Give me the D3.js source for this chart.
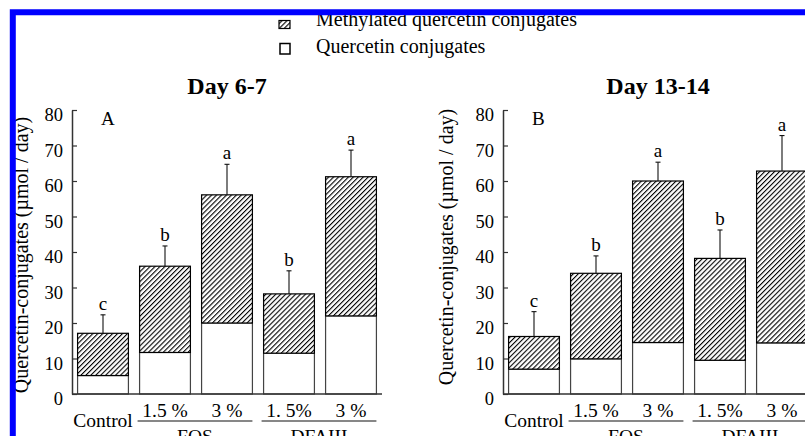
<!DOCTYPE html>
<html lang="en">
<head>
  <meta charset="utf-8">
  <title>Quercetin conjugates</title>
  <script src="https://d3js.org/d3.v7.min.js"></script>
  <style>
    body { margin: 0; background: #fff; }
    text { font-family: "Liberation Serif", "Times New Roman", serif; fill: #000; }
  </style>
</head>
<body>
<script>
  // categories and labels
  var categories = ["Control", "FOS 1.5", "FOS 3", "DFAIII 1.5", "DFAIII 3"];
  var tickLabels = ["Control", "1.5 %", "3 %", "1. 5%", "3 %"];
  var groupNames = ["FOS", "DFAIII"];
  var groupMembers = [["FOS 1.5", "FOS 3"], ["DFAIII 1.5", "DFAIII 3"]];
  var yTicks = [0, 10, 20, 30, 40, 50, 60, 70, 80];

  // Day 6-7 (A), umol / day
  var quercetinA = [5.2, 11.7, 20.0, 11.5, 22.0];
  var methylatedA = [11.9, 24.3, 36.1, 16.7, 39.2];
  var errorA = [5.2, 5.7, 8.6, 6.5, 7.5];
  var lettersA = ["c", "b", "a", "b", "a"];

  // Day 13-14 (B)
  var quercetinB = [7.0, 9.9, 14.5, 9.5, 14.4];
  var methylatedB = [9.2, 24.1, 45.5, 28.7, 48.4];
  var errorB = [7.0, 4.9, 5.3, 8.0, 10.0];
  var lettersB = ["c", "b", "a", "b", "a"];

  var panels = [
    { title: "Day 6-7", tag: "A", q: quercetinA, m: methylatedA, err: errorA, letters: lettersA,
      axisX: 72, labelX: 27.5, labelY: 255 },
    { title: "Day 13-14", tag: "B", q: quercetinB, m: methylatedB, err: errorB, letters: lettersB,
      axisX: 503, labelX: 452.5, labelY: 247 }
  ];

  var svg = d3.select('body').append('svg')
    .attr('width', 805)
    .attr('height', 436)
    .style('display', 'block');

  // hatch for methylated part
  var pat = svg.append('defs').append('pattern')
    .attr('id', 'hatch')
    .attr('patternUnits', 'userSpaceOnUse')
    .attr('width', 3.5)
    .attr('height', 3.5)
    .attr('patternTransform', 'rotate(45)');
  pat.append('rect').attr('width', 3.5).attr('height', 3.5).attr('fill', '#fff');
  pat.append('line')
    .attr('x1', 0).attr('y1', 0).attr('x2', 0).attr('y2', 3.5)
    .attr('stroke', '#000').attr('stroke-width', 2.2);

  var y = d3.scaleLinear().domain([0, 80]).range([394, 110]);
  var stack = d3.stack().keys(["quercetin", "methylated"]);

  panels.forEach(function (p) {
    var g = svg.append('g');

    var x = d3.scaleBand()
      .domain(categories)
      .range([p.axisX, p.axisX + 310])
      .paddingInner(0.18)
      .paddingOuter(0.09);

    var rows = categories.map(function (c, i) {
      return { cat: c, quercetin: p.q[i], methylated: p.m[i], err: p.err[i], letter: p.letters[i] };
    });
    var series = stack(rows);

    // bars
    g.selectAll('g.series')
      .data(series)
      .enter()
      .append('g')
      .attr('fill', function (s) { return s.key === 'quercetin' ? '#fff' : 'url(#hatch)'; })
      .attr('stroke', function (s) { return s.key === 'quercetin' ? '#444' : '#000'; })
      .attr('stroke-width', 1.2)
      .selectAll('rect')
      .data(function (s) { return s; })
      .enter()
      .append('rect')
      .attr('x', function (d) { return x(d.data.cat); })
      .attr('width', x.bandwidth())
      .attr('y', function (d) { return y(d[1]); })
      .attr('height', function (d) { return y(d[0]) - y(d[1]); });

    // error bars + letters
    rows.forEach(function (r) {
      var cx = x(r.cat) + x.bandwidth() / 2;
      var top = r.quercetin + r.methylated;
      g.append('line')
        .attr('x1', cx).attr('x2', cx)
        .attr('y1', y(top)).attr('y2', y(top + r.err))
        .attr('stroke', '#111').attr('stroke-width', 1.1);
      g.append('line')
        .attr('x1', cx - 2.5).attr('x2', cx + 2.5)
        .attr('y1', y(top + r.err)).attr('y2', y(top + r.err))
        .attr('stroke', '#111').attr('stroke-width', 1.1);
      g.append('text')
        .attr('x', cx)
        .attr('y', y(top + r.err) - 5)
        .attr('text-anchor', 'middle')
        .style('font-size', '19px')
        .text(r.letter);
    });

    // y axis, ticks pointing inward
    var yAxis = g.append('g')
      .attr('transform', 'translate(' + p.axisX + ',0)')
      .call(d3.axisLeft(y).tickValues(yTicks).tickSize(-5).tickSizeOuter(0).tickPadding(9));
    yAxis.select('.domain').attr('stroke', '#333').attr('stroke-width', 1.5);
    yAxis.selectAll('.tick line').attr('stroke', '#333').attr('stroke-width', 1.2);
    yAxis.selectAll('.tick text')
      .attr('dy', '0.57em')
      .style('font-size', '18.5px')
      .style('font-family', '"Liberation Serif", "Times New Roman", serif')
      .attr('fill', '#000');

    // x baseline
    g.append('line')
      .attr('x1', p.axisX).attr('x2', x.range()[1])
      .attr('y1', y(0)).attr('y2', y(0))
      .attr('stroke', '#333').attr('stroke-width', 1.5);

    // category labels
    g.selectAll('text.cat')
      .data(categories)
      .enter()
      .append('text')
      .attr('class', 'cat')
      .attr('x', function (c) { return x(c) + x.bandwidth() / 2; })
      .attr('y', function (c, i) { return i === 0 ? 427 : 417; })
      .attr('text-anchor', 'middle')
      .style('font-size', '19.5px')
      .text(function (c, i) { return tickLabels[i]; });

    // group underline + names (cut by bottom edge like the source figure)
    groupNames.forEach(function (name, k) {
      var a = x(groupMembers[k][0]) - 2;
      var b = x(groupMembers[k][1]) + x.bandwidth();
      g.append('line')
        .attr('x1', a).attr('x2', b)
        .attr('y1', 421).attr('y2', 421)
        .attr('stroke', '#111').attr('stroke-width', 1.2);
      g.append('text')
        .attr('x', (a + b) / 2)
        .attr('y', 443)
        .attr('text-anchor', 'middle')
        .style('font-size', '19.5px')
        .text(name);
    });

    // title, panel letter, y title
    g.append('text')
      .attr('x', (x.range()[0] + x.range()[1]) / 2)
      .attr('y', 94)
      .attr('text-anchor', 'middle')
      .style('font-size', '24px')
      .style('font-weight', 'bold')
      .text(p.title);
    g.append('text')
      .attr('x', p.axisX + 29)
      .attr('y', 125)
      .style('font-size', '19px')
      .text(p.tag);
    g.append('text')
      .attr('transform', 'translate(' + p.labelX + ',' + p.labelY + ') rotate(-90)')
      .attr('text-anchor', 'middle')
      .style('font-size', '20px')
      .text('Quercetin-conjugates (\u00b5mol / day)');
  });

  // legend
  var legend = svg.append('g');
  legend.append('rect')
    .attr('x', 279).attr('y', 20.5).attr('width', 11).attr('height', 8)
    .attr('fill', 'url(#hatch)').attr('stroke', '#000').attr('stroke-width', 1.2);
  legend.append('text')
    .attr('x', 316).attr('y', 25.7)
    .style('font-size', '20px')
    .text('Methylated quercetin conjugates');
  legend.append('rect')
    .attr('x', 280).attr('y', 43.5).attr('width', 10).attr('height', 10.5)
    .attr('fill', '#fff').attr('stroke', '#000').attr('stroke-width', 1.5);
  legend.append('text')
    .attr('x', 316).attr('y', 52.5)
    .style('font-size', '20px')
    .text('Quercetin conjugates');

  // blue frame on top
  svg.append('path')
    .attr('d', 'M12.8,436 V12.3 H805')
    .attr('fill', 'none')
    .attr('stroke', '#0000ff')
    .attr('stroke-width', 6);
</script>
</body>
</html>
